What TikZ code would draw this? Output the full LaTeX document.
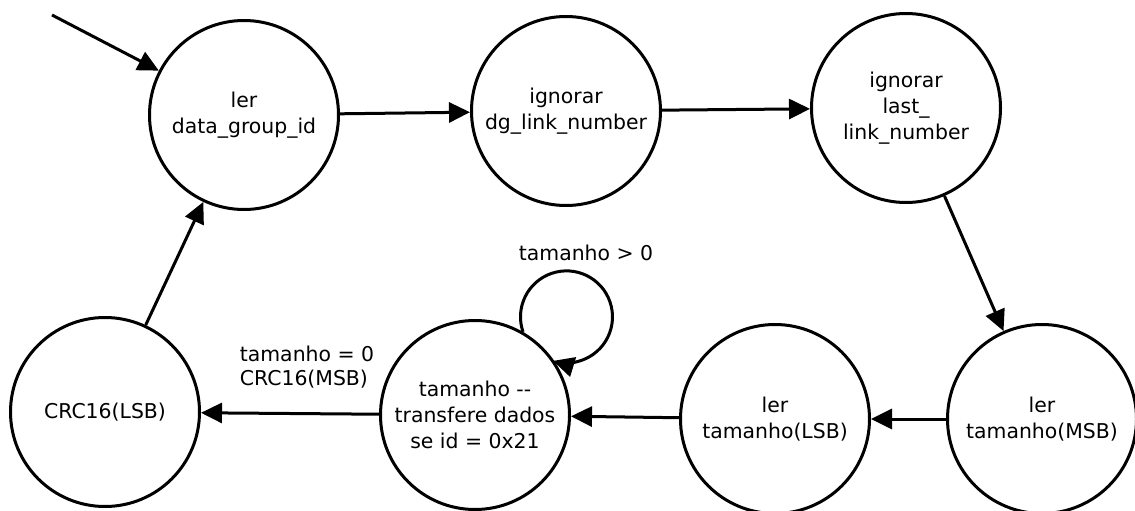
\documentclass[tikz,border=0pt]{standalone}
\usepackage{fontspec}
\setmainfont{DejaVu Sans}
\usetikzlibrary{arrows.meta}
\begin{document}
\begin{tikzpicture}[x=1pt,y=1pt,
  state/.style={circle,draw,line width=3pt,fill=white,minimum size=189pt,inner sep=0pt,
    align=center,font=\fontsize{20.4}{26.3}\selectfont},
  lbl/.style={font=\fontsize{20.4}{24}\selectfont,inner sep=0pt},
  arr/.style={line width=3pt,-{Triangle[length=21pt,width=20pt]}}]
\useasboundingbox (0,0) rectangle (1135,-511);
% states
\node[state] (rd)  at (244,-115) {ler\\data\_group\_id};
\node[state] (dg)  at (566,-111) {ignorar\\dg\_link\_number};
\node[state] (ll)  at (906,-108) {ignorar\\last\_\\link\_number};
\node[state] (msb) at (1042,-419) {ler\\tamanho(MSB)};
\node[state] (lsb) at (775,-419) {ler\\tamanho(LSB)};
\node[state] (tx)  at (475,-415) {tamanho -{}-\\transfere dados\\se id = 0x21};
\node[state] (crc) at (105,-412) {CRC16(LSB)};
% entry
\coordinate (entry) at (52,-15);
\draw[arr] (entry) -- (rd);
% transitions
\draw[arr] (rd) -- (dg);
\draw[arr] (dg) -- (ll);
\draw[arr] (ll) -- (msb);
\draw[arr] (msb) -- (lsb);
\draw[arr] (lsb) -- (tx);
\draw[arr] (tx) -- (crc);
\draw[arr] (crc) -- (rd);
% self loop while data remains
\draw[arr] (tx.60) arc[start angle=199,end angle=-107,radius=46];
% labels
\node[lbl] (gt) at (586,-253) {tamanho > 0};
\node[lbl,align=left] (eq) at (307,-367) {tamanho = 0\\CRC16(MSB)};
\end{tikzpicture}
\end{document}
